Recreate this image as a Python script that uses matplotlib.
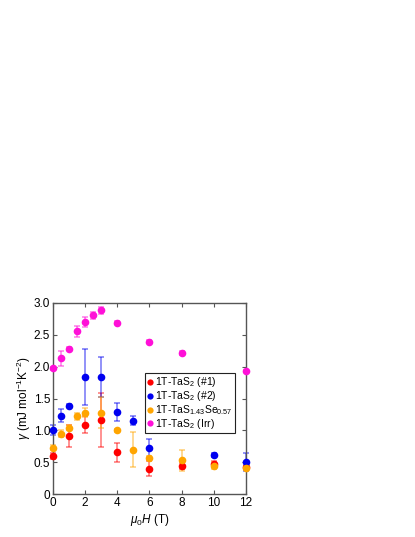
import matplotlib
matplotlib.use("Agg")
import matplotlib.pyplot as plt
from matplotlib.lines import Line2D
from matplotlib.ticker import FuncFormatter

plt.rcParams['font.family'] = ['Liberation Sans', 'DejaVu Sans']
plt.rcParams['mathtext.fontset'] = 'custom'
plt.rcParams['mathtext.rm'] = 'Liberation Sans'
plt.rcParams['mathtext.it'] = 'Liberation Sans:italic'
plt.rcParams['font.size'] = 8

# 1T-TaS2 (#1)
h1 = [0, 1, 2, 3, 4, 6, 8, 10, 12]
g1 = [0.60, 0.91, 1.09, 1.16, 0.66, 0.40, 0.44, 0.48, 0.42]
e1 = [0.04, 0.17, 0.13, 0.42, 0.15, 0.12, 0.05, 0.04, 0.03]

# 1T-TaS2 (#2)
h2 = [0, 0.5, 1, 2, 3, 4, 5, 6, 10, 12]
g2 = [1.01, 1.23, 1.39, 1.84, 1.84, 1.29, 1.15, 0.72, 0.62, 0.50]
e2 = [0.08, 0.10, 0.03, 0.44, 0.31, 0.14, 0.07, 0.15, 0.03, 0.14]

# 1T-TaS1.43Se0.57
h3 = [0, 0.5, 1, 1.5, 2, 3, 4, 5, 6, 8, 10, 12]
g3 = [0.73, 0.95, 1.04, 1.22, 1.28, 1.28, 1.00, 0.70, 0.57, 0.53, 0.45, 0.41]
e3 = [0.04, 0.05, 0.04, 0.06, 0.07, 0.24, 0.02, 0.28, 0.03, 0.17, 0.06, 0.03]

# 1T-TaS2 (Irr)
h4 = [0, 0.5, 1, 1.5, 2, 2.5, 3, 4, 6, 8, 12]
g4 = [1.97, 2.13, 2.28, 2.55, 2.70, 2.80, 2.88, 2.69, 2.39, 2.21, 1.93]
e4 = [0.02, 0.12, 0.02, 0.08, 0.08, 0.05, 0.05, 0.02, 0.02, 0.03, 0.02]

labels = ['1T-TaS$_2$ (#1)', '1T-TaS$_2$ (#2)',
          '1T-TaS$_{1.43}$Se$_{0.57}$', '1T-TaS$_2$ (Irr)']
colors = ['#ff0000', '#0000f0', '#ffa500', '#ff10d8']

fig = plt.figure(figsize=(4.15, 5.37), dpi=100)
ax = fig.add_axes([0.1277, 0.0795, 0.465, 0.3568])

series = [(h4, g4, e4, colors[3]), (h1, g1, e1, colors[0]),
          (h2, g2, e2, colors[1]), (h3, g3, e3, colors[2])]
for h, g, e, c in series:
    ax.errorbar(h, g, yerr=e, fmt='none', ecolor=c, alpha=0.5,
                elinewidth=1.2, capsize=2.2, capthick=1.2, clip_on=False)
    ax.plot(h, g, 'o', color=c, ms=5.5, mec='none', clip_on=False, zorder=3)

ax.set_xlim(0, 12)
ax.set_ylim(0, 3.0)
ax.set_xticks(range(0, 13, 2))
ax.set_yticks([0, 0.5, 1.0, 1.5, 2.0, 2.5, 3.0])
ax.yaxis.set_major_formatter(FuncFormatter(lambda v, p: '0' if v == 0 else f'{v:.1f}'))
ax.tick_params(direction='in', length=3, width=0.8, top=True, right=True,
               color='#555555', labelsize=8.5, pad=2)
for s in ax.spines.values():
    s.set_color('#555555')
    s.set_linewidth(1.0)

ax.set_xlabel(r'$\mu_0H$ (T)', fontsize=8.5, labelpad=2)
ax.set_ylabel(r'$\gamma$ (mJ mol$^{-1}$K$^{-2}$)', fontsize=8.5)
ax.yaxis.set_label_coords(-0.102, 0.5)

handles = [Line2D([], [], marker='o', ls='none', color=c, ms=4.5, mec='none')
           for c in colors]
leg = ax.legend(handles, labels, loc='upper left', bbox_to_anchor=(0.477, 0.633),
                borderaxespad=0, fontsize=7.5, handlelength=0.5, handletextpad=0.25,
                borderpad=0.22, labelspacing=0.0, fancybox=False, framealpha=1)
leg.get_frame().set_edgecolor('#222222')
leg.get_frame().set_linewidth(0.8)

fig.savefig('out.png', dpi=100)
